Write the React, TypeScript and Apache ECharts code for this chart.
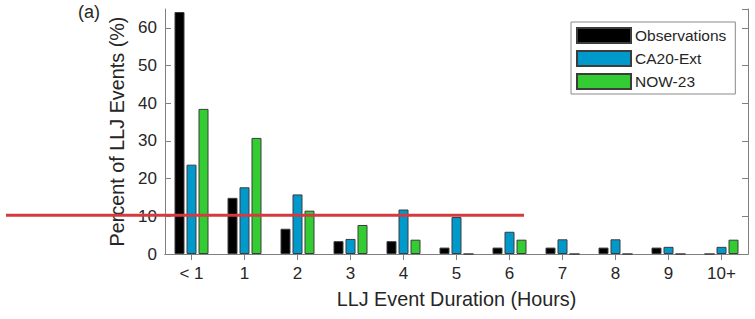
import React, { useEffect, useRef } from "react";
import * as echarts from "echarts";

const categories = ["< 1", "1", "2", "3", "4", "5", "6", "7", "8", "9", "10+"];
const observations = [64.2, 14.9, 6.7, 3.4, 3.4, 1.7, 1.7, 1.7, 1.7, 1.7, 0];
const ca20Ext = [23.7, 17.7, 15.8, 4.0, 11.8, 9.8, 5.9, 3.9, 3.9, 1.9, 1.9];
const now23 = [38.5, 30.8, 11.5, 7.7, 3.8, 0, 3.8, 0, 0, 0, 3.8];
const seriesNames = ["Observations", "CA20-Ext", "NOW-23"];
const seriesColors = ["#000000", "#0099cc", "#33cc33"];
const redLineValue = 10.3;

const FONT = 'Arial, "Liberation Sans", Helvetica, sans-serif';
const AXIS_COLOR = "#7f7f7f";
const TEXT_COLOR = "#262626";

export default function App() {
  const ref = useRef<HTMLDivElement>(null);
  useEffect(() => {
    if (!ref.current) return;
    const chart = echarts.init(ref.current, undefined, { renderer: "svg" });
    const data = [observations, ca20Ext, now23];
    const axisCommon = {
      axisLine: { show: true, lineStyle: { color: AXIS_COLOR, width: 1 } },
      axisTick: { show: true, inside: true, length: 6, lineStyle: { color: AXIS_COLOR } },
      splitLine: { show: false },
    };
    chart.setOption({
      animation: false,
      textStyle: { fontFamily: FONT },
      grid: { left: 165, top: 9, width: 583, height: 245, containLabel: false },
      legend: {
        left: 571,
        top: 22,
        orient: "vertical",
        data: seriesNames,
        icon: "rect",
        itemWidth: 54,
        itemHeight: 15,
        itemGap: 6,
        padding: [5, 9, 4, 5],
        borderColor: "#8a8a8a",
        borderWidth: 1,
        backgroundColor: "#ffffff",
        textStyle: { fontSize: 15.5, color: TEXT_COLOR, fontFamily: FONT, padding: [0, 0, 0, -1] },
      },
      xAxis: [
        {
          type: "category",
          data: categories,
          position: "bottom",
          ...axisCommon,
          axisTick: { ...axisCommon.axisTick, alignWithLabel: true },
          axisLabel: { fontSize: 17, color: TEXT_COLOR, margin: 11, fontFamily: FONT },
          name: "LLJ Event Duration (Hours)",
          nameLocation: "middle",
          nameGap: 35,
          nameTextStyle: { fontSize: 19.8, color: TEXT_COLOR, fontFamily: FONT },
        },
        {
          type: "category",
          data: categories,
          position: "top",
          ...axisCommon,
          axisTick: { ...axisCommon.axisTick, alignWithLabel: true },
          axisLabel: { show: false },
        },
      ],
      yAxis: [
        {
          type: "value",
          min: 0,
          max: 65,
          interval: 10,
          position: "left",
          ...axisCommon,
          axisLabel: { fontSize: 17, color: TEXT_COLOR, margin: 8, showMaxLabel: false, fontFamily: FONT },
          name: "Percent of LLJ Events (%)",
          nameLocation: "middle",
          nameGap: 34,
          nameTextStyle: { fontSize: 19.8, color: TEXT_COLOR, fontFamily: FONT },
        },
        {
          type: "value",
          min: 0,
          max: 65,
          interval: 10,
          position: "right",
          ...axisCommon,
          axisLabel: { show: false },
        },
      ],
      series: seriesNames.map((name, i) => ({
        name,
        type: "bar",
        data: data[i],
        xAxisIndex: 0,
        yAxisIndex: 0,
        barWidth: 10,
        barGap: "20%",
        itemStyle: { color: seriesColors[i], borderColor: "#3c3c3c", borderWidth: 1 },
      })),
    });
    const y = chart.convertToPixel({ yAxisIndex: 0 }, redLineValue) as number;
    chart.setOption({
      graphic: [
        {
          type: "text",
          left: 78,
          top: 3,
          style: { text: "(a)", fontSize: 18, fill: TEXT_COLOR, fontFamily: FONT },
        },
        {
          type: "line",
          shape: { x1: 6, y1: y, x2: 524, y2: y },
          style: { stroke: "#d43a3f", lineWidth: 3 },
          z: 100,
        },
      ],
    });
    return () => chart.dispose();
  }, []);
  return (
    <div
      ref={ref}
      style={{ position: "fixed", left: 0, top: 0, width: 755, height: 319, background: "#fff" }}
    />
  );
}
